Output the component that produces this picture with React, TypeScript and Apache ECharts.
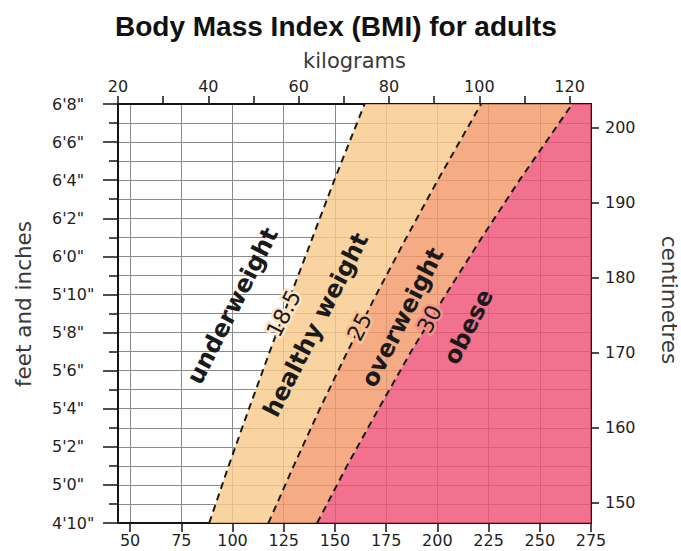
import React, { useEffect, useRef } from "react";
import * as echarts from "echarts";

// ---- data ----
const heightInches = [58, 61, 64, 67, 70, 73, 76, 80];
const bmi185Kg = [40.2, 44.5, 49.0, 53.6, 58.3, 63.1, 67.9, 74.6];
const bmi25Kg = [53.3, 58.9, 64.7, 70.8, 77.2, 83.9, 90.8, 100.4];
const bmi30Kg = [64.1, 70.7, 77.7, 84.9, 92.6, 100.6, 108.9, 120.6];

const kgTicks = [20, 30, 40, 50, 60, 70, 80, 90, 100, 110, 120];
const kgLabelTicks = [20, 40, 60, 80, 100, 120];
const lbTicks = [50, 75, 100, 125, 150, 175, 200, 225, 250, 275];
const cmTicks = [150, 160, 170, 180, 190, 200];

const zoneLabels = [
  { text: "underweight", kg: 45.4, inch: 69.4, bold: true, halo: "" },
  { text: "18.5", kg: 56.7, inch: 69.0, bold: false, halo: "#fce4c6" },
  { text: "healthy weight", kg: 63.8, inch: 68.4, bold: true, halo: "" },
  { text: "25", kg: 73.5, inch: 68.3, bold: false, halo: "#f8c195" },
  { text: "overweight", kg: 83.0, inch: 68.8, bold: true, halo: "" },
  { text: "30", kg: 89.0, inch: 68.7, bold: false, halo: "#f4928a" },
  { text: "obese", kg: 97.6, inch: 68.3, bold: true, halo: "" },
];

const KG_PER_LB = 0.45359237;
const CM_PER_IN = 2.54;
const minHeightIn = 58;
const maxHeightIn = 80;
const maxLb = 275;
const minKg = 20;
const maxKg = maxLb * KG_PER_LB;

const bandBounds = [
  [bmi185Kg, bmi25Kg],
  [bmi25Kg, bmi30Kg],
  [bmi30Kg, null],
];
const bandColors = [
  "rgba(249,203,139,0.82)",
  "rgba(243,154,105,0.82)",
  "rgba(238,82,117,0.82)",
];
const dashedLines = [bmi185Kg, bmi25Kg, bmi30Kg];

const FONT = "DejaVu Sans";
const AXIS_COLOR = "#151515";
const GRID_COLOR = "#8a8a8a";
const LABEL_ANGLE = (63 * Math.PI) / 180;

function inchLabel(v: number): string {
  const ft = Math.floor(v / 12);
  const inch = Math.round(v - ft * 12);
  return `${ft}'${inch}"`;
}

function buildOption(): any {
  const tickLabel = { fontFamily: FONT, fontSize: 16, color: "#1e1e1e" };
  const axisLine = { onZero: false, lineStyle: { color: AXIS_COLOR, width: 2 } };
  const tickLine = { color: AXIS_COLOR, width: 1.5 };

  const bandSeries = {
    type: "custom",
    xAxisIndex: 0,
    yAxisIndex: 0,
    z: 1,
    silent: true,
    clip: true,
    data: bandColors.map((_, i) => [i]),
    renderItem: (params: any, api: any) => {
      const i = params.dataIndex;
      const [left, right] = bandBounds[i];
      const pts: number[][] = heightInches.map((h, k) => api.coord([left[k], h]));
      if (right) {
        const rp = heightInches.map((h, k) => api.coord([(right as number[])[k], h]));
        rp.reverse();
        pts.push(...rp);
      } else {
        pts.push(api.coord([maxKg, maxHeightIn]));
        pts.push(api.coord([maxKg, minHeightIn]));
      }
      return {
        type: "polygon",
        shape: { points: pts },
        style: { fill: bandColors[i], stroke: "none" },
      };
    },
  };

  const lineSeries = dashedLines.map((kgs) => ({
    type: "line",
    xAxisIndex: 0,
    yAxisIndex: 0,
    z: 3,
    silent: true,
    symbol: "none",
    showSymbol: false,
    data: heightInches.map((h, k) => [kgs[k], h]),
    lineStyle: { color: "#1a1a1a", width: 2, type: [7, 5] },
  }));

  const labelSeries = {
    type: "custom",
    xAxisIndex: 0,
    yAxisIndex: 0,
    z: 4,
    silent: true,
    data: zoneLabels.map((l) => [l.kg, l.inch]),
    renderItem: (params: any, api: any) => {
      const l = zoneLabels[params.dataIndex];
      const p = api.coord([api.value(0), api.value(1)]);
      const style: any = {
        text: l.text,
        fontFamily: FONT,
        fontWeight: l.bold ? "bold" : "normal",
        fontSize: l.bold ? 24 : 22,
        fill: "#1a1a1a",
        align: "center",
        verticalAlign: "middle",
      };
      if (l.halo) {
        style.stroke = l.halo;
        style.lineWidth = 5;
      }
      return {
        type: "text",
        x: p[0],
        y: p[1],
        rotation: LABEL_ANGLE,
        style,
      };
    },
  };

  return {
    animation: false,
    backgroundColor: "#ffffff",
    title: {
      text: "Body Mass Index (BMI) for adults",
      left: 115,
      top: 12,
      padding: 0,
      textStyle: {
        fontFamily: "Liberation Sans",
        fontWeight: "bold",
        fontSize: 28,
        color: "#111111",
      },
    },
    grid: {
      left: 118,
      right: 90,
      top: 104,
      bottom: 28,
      containLabel: false,
      outerBoundsMode: "none",
    },
    xAxis: [
      {
        type: "value",
        position: "top",
        min: minKg,
        max: maxKg,
        name: "kilograms",
        nameLocation: "middle",
        nameGap: 33,
        nameTextStyle: { fontFamily: FONT, fontSize: 21, color: "#3a3a3a" },
        axisLine,
        axisTick: { show: true, customValues: kgTicks, length: 8, lineStyle: tickLine },
        axisLabel: { ...tickLabel, customValues: kgLabelTicks, margin: 10 },
        splitLine: { show: false },
      },
      {
        type: "value",
        position: "bottom",
        min: minKg / KG_PER_LB,
        max: maxLb,
        axisLine,
        axisTick: { show: true, customValues: lbTicks, length: 9, lineStyle: tickLine },
        axisLabel: { ...tickLabel, customValues: lbTicks, margin: 9 },
        splitLine: { show: true, lineStyle: { color: GRID_COLOR, width: 1 } },
      },
    ],
    yAxis: [
      {
        type: "value",
        position: "left",
        min: minHeightIn,
        max: maxHeightIn,
        interval: 2,
        axisLine,
        axisTick: { show: true, length: 15, lineStyle: tickLine },
        minorTick: { show: true, splitNumber: 2, length: 9, lineStyle: tickLine },
        axisLabel: {
          ...tickLabel,
          align: "left",
          margin: 66,
          showMinLabel: true,
          showMaxLabel: true,
          formatter: (v: number) => inchLabel(v),
        },
        splitLine: { show: true, lineStyle: { color: GRID_COLOR, width: 1 } },
        minorSplitLine: { show: true, lineStyle: { color: GRID_COLOR, width: 1 } },
      },
      {
        type: "value",
        position: "right",
        min: minHeightIn * CM_PER_IN,
        max: maxHeightIn * CM_PER_IN,
        axisLine,
        axisTick: { show: true, customValues: cmTicks, length: 8, lineStyle: tickLine },
        axisLabel: { ...tickLabel, customValues: cmTicks, margin: 14 },
        splitLine: { show: false },
      },
    ],
    graphic: [
      {
        type: "text",
        x: 23,
        y: 304,
        rotation: Math.PI / 2,
        style: {
          text: "feet and inches",
          fontFamily: FONT,
          fontSize: 21.5,
          fill: "#3a3a3a",
          align: "center",
          verticalAlign: "middle",
        },
      },
      {
        type: "text",
        x: 669,
        y: 300,
        rotation: -Math.PI / 2,
        style: {
          text: "centimetres",
          fontFamily: FONT,
          fontSize: 21.5,
          fill: "#3a3a3a",
          align: "center",
          verticalAlign: "middle",
        },
      },
    ],
    series: [bandSeries, ...lineSeries, labelSeries],
  };
}

export default function App() {
  const ref = useRef<HTMLDivElement>(null);
  useEffect(() => {
    if (!ref.current) return;
    const chart = echarts.init(ref.current, null, { renderer: "svg" });
    chart.setOption(buildOption());
    return () => chart.dispose();
  }, []);
  return (
    <div
      ref={ref}
      style={{ position: "fixed", left: 0, top: 0, width: 681, height: 551 }}
    />
  );
}
